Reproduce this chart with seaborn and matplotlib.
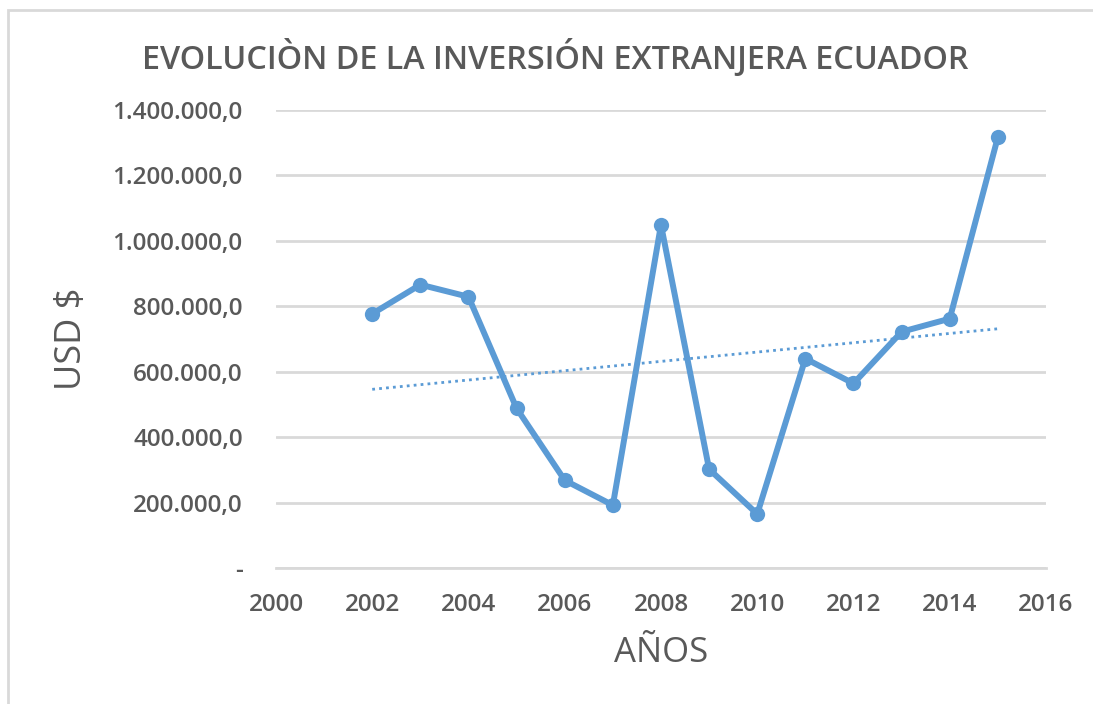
import numpy as np
import pandas as pd
import seaborn as sns
import matplotlib.pyplot as plt
from matplotlib.ticker import FuncFormatter, MultipleLocator
from matplotlib.patches import Rectangle

years = [2002, 2003, 2004, 2005, 2006, 2007, 2008, 2009, 2010, 2011, 2012, 2013, 2014, 2015]
inversion = [777000, 866000, 829000, 488000, 268000, 192000, 1049000, 302000,
             165000, 640000, 564000, 722000, 762000, 1317000]

df = pd.DataFrame({'anio': years, 'usd': inversion})

sns.set_style('white')
plt.rcParams['font.family'] = ['Open Sans', 'DejaVu Sans']

blue = '#5B9BD5'
gray = '#595959'

fig = plt.figure(figsize=(10.93, 7.04), dpi=100)
ax = fig.add_axes([0.2525, 0.1932, 0.7045, 0.6506])

ax.grid(axis='y', color='#D9D9D9', linewidth=2)
ax.set_axisbelow(True)

# linea de tendencia
sns.regplot(data=df, x='anio', y='usd', ax=ax, scatter=False, ci=None,
            line_kws={'color': blue, 'linestyle': (0, (1, 1.5)), 'linewidth': 2})
sns.lineplot(data=df, x='anio', y='usd', ax=ax, color=blue, linewidth=4.3,
             marker='o', markersize=11, markeredgewidth=0)

ax.set_xlim(2000, 2016)
ax.set_ylim(0, 1400000)
ax.xaxis.set_major_locator(MultipleLocator(2))
ax.yaxis.set_major_locator(MultipleLocator(200000))


def fmt(v, pos):
    if v == 0:
        return '-'
    return '{:,.1f}'.format(v).replace(',', 'X').replace('.', ',').replace('X', '.')


ax.yaxis.set_major_formatter(FuncFormatter(fmt))
for s in ax.spines.values():
    s.set_visible(False)
ax.spines['bottom'].set_visible(True)
ax.spines['bottom'].set_color('#D9D9D9')
ax.spines['bottom'].set_linewidth(2)
ax.tick_params(axis='both', length=0, labelcolor=gray)
ax.tick_params(axis='y', pad=24, labelsize=17.5)
ax.tick_params(axis='x', pad=18, labelsize=17.5)
for lab in ax.get_xticklabels() + ax.get_yticklabels():
    lab.set_fontweight('semibold')

ax.set_xlabel('AÑOS', fontsize=25, color=gray, labelpad=14)
ax.set_ylabel('USD $', fontsize=26, color=gray, labelpad=16)
fig.text(0.508, 0.918, 'EVOLUCIÒN DE LA INVERSIÓN EXTRANJERA ECUADOR', ha='center', va='center',
         fontsize=23.3, color=gray, fontweight='semibold')

fig.patches.append(Rectangle((0.007, -0.01), 1.2, 0.996, transform=fig.transFigure,
                             fill=False, edgecolor='#D9D9D9', linewidth=2))

fig.savefig('out.png', dpi=100)
